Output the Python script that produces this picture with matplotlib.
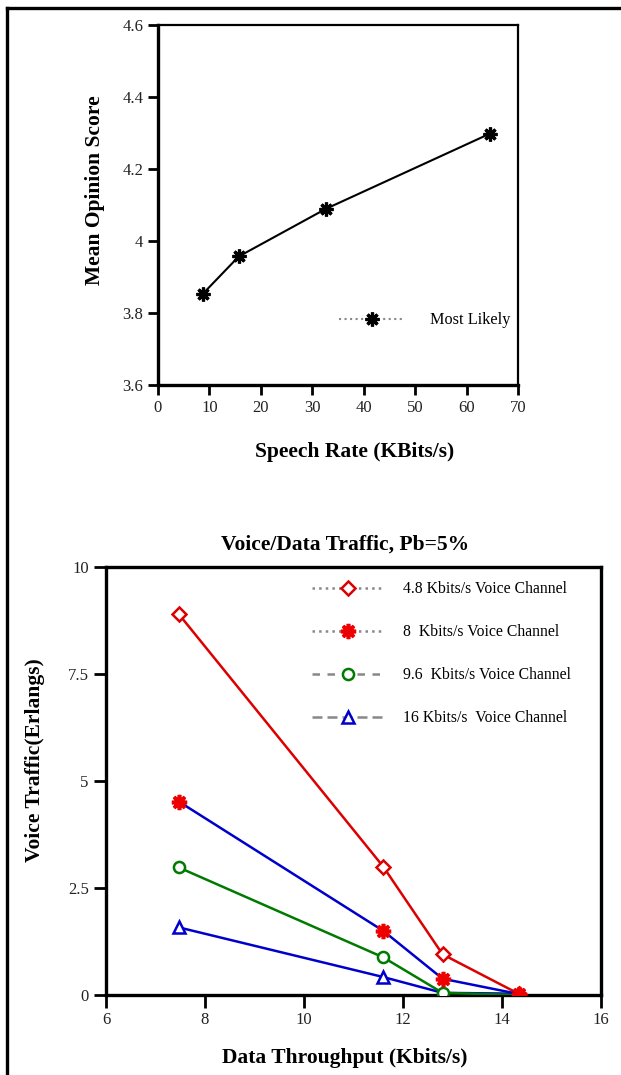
import matplotlib
matplotlib.use("Agg")
import matplotlib.pyplot as plt
from matplotlib.lines import Line2D

plt.rcParams["font.family"] = ["Liberation Serif", "DejaVu Serif"]

# top panel: MOS vs speech rate
speech_rate = [8.7, 15.7, 32.6, 64.5]
mos = [3.853, 3.957, 4.089, 4.298]

# bottom panel: voice traffic vs data throughput, Pb = 5%
throughput = [7.47, 11.6, 12.8, 14.35]
traffic_4k8 = [8.9, 3.0, 0.95, 0.02]
traffic_8k = [4.52, 1.5, 0.38, 0.02]
traffic_9k6 = [2.98, 0.88, 0.05, 0.0]
traffic_16k = [1.58, 0.42, 0.05, 0.03]
labels = ["4.8 Kbits/s Voice Channel", "8  Kbits/s Voice Channel",
          "9.6  Kbits/s Voice Channel", "16 Kbits/s  Voice Channel"]

STAR = (8, 2, 0)

fig = plt.figure(figsize=(6.21, 10.75), dpi=100)


def style_axes(ax):
    for s in ("left", "bottom"):
        ax.spines[s].set_linewidth(2.4)
    for s in ("top", "right"):
        ax.spines[s].set_linewidth(1.6)
    ax.tick_params(direction="out", length=7, width=2, labelsize=12,
                   top=False, right=False, colors="black", labelcolor="#222222")


# ---- top chart ----
ax1 = fig.add_axes([158 / 621, 1 - 385 / 1075, 360 / 621, 360 / 1075])
ax1.plot(speech_rate, mos, "-", color="black", lw=1.5, marker=STAR, ms=10,
         mew=2.3, mec="black", zorder=3)
ax1.set_xlim(0, 70)
ax1.set_ylim(3.6, 4.6)
ax1.set_xticks(range(0, 71, 10))
ax1.set_yticks([3.6, 3.8, 4.0, 4.2, 4.4, 4.6])
ax1.set_yticklabels(["3.6", "3.8", "4", "4.2", "4.4", "4.6"])
style_axes(ax1)
h1 = Line2D([], [], color="#888888", ls=":", lw=1.5, marker=STAR, ms=10,
            mew=2.3, mec="black")
ax1.legend([h1], ["Most Likely"], loc="center", bbox_to_anchor=(0.74, 0.18),
           frameon=False, fontsize=11.7, handlelength=4.1, handletextpad=1.5)
fig.text(95 / 621, 1 - 190 / 1075, "Mean Opinion Score", rotation=90,
         ha="center", va="center", fontsize=15.5, fontweight="bold")
fig.text(355 / 621, 1 - 452 / 1075, "Speech Rate (KBits/s)", ha="center",
         va="center", fontsize=15.5, fontweight="bold")

# ---- bottom chart ----
ax2 = fig.add_axes([106 / 621, 1 - 995 / 1075, 495 / 621, 428 / 1075])
ax2.plot(throughput, traffic_4k8, "-", color="#dd0000", lw=1.8, marker="D",
         ms=7, mfc="white", mec="#dd0000", mew=1.8, zorder=3)
ax2.plot(throughput, traffic_8k, "-", color="#0000cc", lw=1.8, marker=STAR,
         ms=11, mec="#ee0000", mew=2.6, zorder=4)
ax2.plot(throughput, traffic_9k6, "-", color="#007a00", lw=1.8, marker="o",
         ms=8, mfc="white", mec="#007a00", mew=1.8, zorder=3)
ax2.plot(throughput, traffic_16k, "-", color="#0000cc", lw=1.8, marker="^",
         ms=9, mfc="white", mec="#0000cc", mew=1.8, zorder=2)
ax2.set_xlim(6, 16)
ax2.set_ylim(0, 10)
ax2.set_xticks(range(6, 17, 2))
ax2.set_yticks([0, 2.5, 5, 7.5, 10])
ax2.set_yticklabels(["0", "2.5", "5", "7.5", "10"])
style_axes(ax2)
for s in ("top", "right"):
    ax2.spines[s].set_linewidth(2.4)
ax2.tick_params(length=9)

handles = [
    Line2D([], [], color="#888888", ls=":", lw=1.8, marker="D", ms=7,
           mfc="white", mec="#dd0000", mew=1.8),
    Line2D([], [], color="#888888", ls=":", lw=1.8, marker=STAR, ms=11,
           mec="#ee0000", mew=2.6),
    Line2D([], [], color="#888888", ls=(0, (3, 3)), lw=1.8, marker="o", ms=8,
           mfc="white", mec="#007a00", mew=1.8),
    Line2D([], [], color="#888888", ls=(0, (4, 2)), lw=1.8, marker="^", ms=9,
           mfc="white", mec="#0000cc", mew=1.8),
]
ax2.legend(handles, labels, loc="upper left", bbox_to_anchor=(0.388, 1.0),
           frameon=False, fontsize=11.3, handlelength=4.6, handletextpad=1.2,
           labelspacing=1.72)
fig.text(345 / 621, 1 - 545 / 1075, "Voice/Data Traffic, Pb=5%", ha="center",
         va="center", fontsize=15.5, fontweight="bold")
fig.text(345 / 621, 1 - 1058 / 1075, "Data Throughput (Kbits/s)", ha="center",
         va="center", fontsize=15.5, fontweight="bold")
fig.text(35 / 621, 1 - 760 / 1075, "Voice Traffic(Erlangs)", rotation=90,
         ha="center", va="center", fontsize=15.5, fontweight="bold")

# outer frame (left and top edges)
fig.add_artist(Line2D([7 / 621, 7 / 621], [0, 1 - 8 / 1075], color="black",
                      lw=2.4, transform=fig.transFigure))
fig.add_artist(Line2D([7 / 621, 1], [1 - 8 / 1075, 1 - 8 / 1075], color="black",
                      lw=2.4, transform=fig.transFigure))

fig.savefig("out.png", dpi=100)
